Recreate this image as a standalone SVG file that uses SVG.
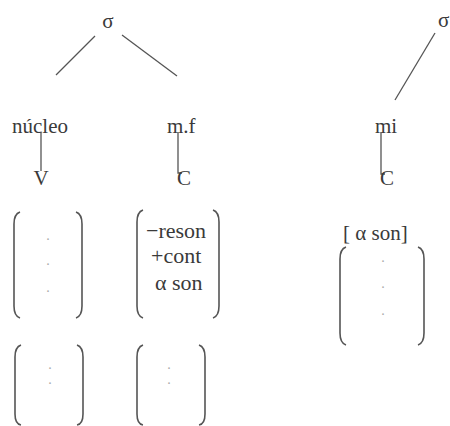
<svg xmlns="http://www.w3.org/2000/svg" width="450" height="426" viewBox="0 0 450 426">
<style>
text{font-family:"Liberation Serif","Times New Roman",serif;font-size:21px;fill:#3a3a3a}
.big{font-size:22px}
.dot{fill:#aaa;font-size:14px}
.ln{stroke:#555;stroke-width:1.3;fill:none}
.br{stroke:#555;stroke-width:1.6;fill:none}
</style>
<rect width="450" height="426" fill="#fff"/>
<g id="connectors">
<line class="ln" x1="95" y1="36" x2="56" y2="75"/>
<line class="ln" x1="122" y1="35" x2="177" y2="76"/>
<line class="ln" x1="435" y1="33" x2="395" y2="100"/>
<line class="ln" x1="41" y1="132" x2="41" y2="171"/>
<polyline class="ln" points="178,132 178,173 182,173"/>
<polyline class="ln" points="381,132 381,174 385,174"/>
</g>
<g id="sigma1"><text x="108" y="28" text-anchor="middle">σ</text></g>
<g id="sigma2"><text x="438" y="27">σ</text></g>
<g id="nucleo"><text x="12" y="133">núcleo</text></g>
<g id="mf"><text x="167" y="133">m.f</text></g>
<g id="mi"><text x="375" y="133">mi</text></g>
<g id="V"><text x="41" y="185" text-anchor="middle">V</text></g>
<g id="C1"><text x="177" y="185">C</text></g>
<g id="C2"><text x="380" y="185">C</text></g>
<g id="matrix1">
<path class="br" d="M20,212 Q14,214 14,224 V306 Q14,316 20,318"/>
<path class="br" d="M76,212 Q82,214 82,224 V306 Q82,316 76,318"/>
<text class="dot" x="48" y="240" text-anchor="middle">.</text>
<text class="dot" x="48" y="265" text-anchor="middle">.</text>
<text class="dot" x="48" y="292" text-anchor="middle">.</text>
</g>
<g id="matrix2">
<path class="br" d="M143,210 Q137,212 137,222 V306 Q137,316 143,318"/>
<path class="br" d="M213,210 Q219,212 219,222 V306 Q219,316 213,318"/>
<text class="big" x="146" y="238">−reson</text>
<text class="big" x="151" y="263">+cont</text>
<text class="big" x="155" y="290">α son</text>
</g>
<g id="matrix3">
<text x="343" y="240">[ α son]</text>
<path class="br" d="M346,247 Q340,249 340,259 V333 Q340,343 346,345"/>
<path class="br" d="M418,247 Q424,249 424,259 V333 Q424,343 418,345"/>
<text class="dot" x="383" y="262" text-anchor="middle">.</text>
<text class="dot" x="383" y="288" text-anchor="middle">.</text>
<text class="dot" x="383" y="315" text-anchor="middle">.</text>
</g>
<g id="matrix4">
<path class="br" d="M21,345 Q15,347 15,357 V414 Q15,424 21,425"/>
<path class="br" d="M77,345 Q83,347 83,357 V414 Q83,424 77,425"/>
<text class="dot" x="50" y="369" text-anchor="middle">.</text>
<text class="dot" x="50" y="384" text-anchor="middle">.</text>
</g>
<g id="matrix5">
<path class="br" d="M143,345 Q137,347 137,357 V414 Q137,424 143,425"/>
<path class="br" d="M199,345 Q205,347 205,357 V414 Q205,424 199,425"/>
<text class="dot" x="169" y="369" text-anchor="middle">.</text>
<text class="dot" x="169" y="384" text-anchor="middle">.</text>
</g>
</svg>
